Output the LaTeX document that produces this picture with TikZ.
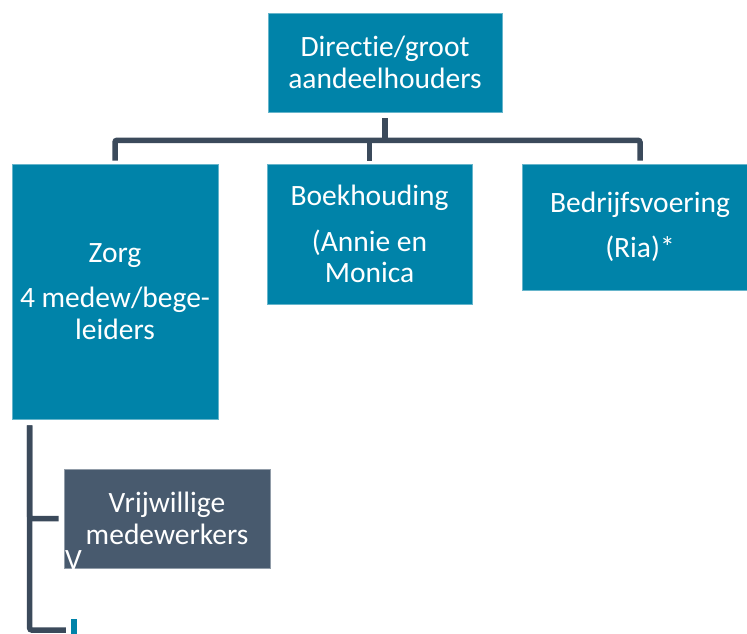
\documentclass[tikz,border=0pt]{standalone}
\usepackage{fontspec}
\setmainfont{Carlito}[Ligatures=NoCommon]
\definecolor{orgteal}{HTML}{0083A9}
\definecolor{orgslate}{HTML}{3B4A5B}
\definecolor{orgvol}{HTML}{485A6E}
\newcommand\boxfont{\fontsize{29.5}{31.5}\selectfont}
\newcommand\gapline{14pt}

\tikzset{
  unitbox/.style={fill=orgteal,draw=orgteal!60!white,line width=0.6pt,text=white,
    inner sep=0pt,align=center,font=\boxfont},
  volbox/.style={unitbox,fill=orgvol,draw=orgvol!60!white},
  conn/.style={draw=orgslate,line width=5.5pt,rounded corners=2pt},
}

\begin{document}
\begin{tikzpicture}[x=1pt,y=-1pt]
  \useasboundingbox (0,0) rectangle (747,633);

  \node[unitbox,minimum width=234pt,minimum height=99pt] (dir) at (385,62.5) {Directie/groot\\aandeelhouders};
  \node[unitbox,minimum width=206pt,minimum height=255pt] (zorg) at (115,291.5) {Zorg\\[\gapline]4 medew/bege-\\leiders};
  \node[unitbox,minimum width=205pt,minimum height=140pt] (boek) at (369.5,234) {Boekhouding\\[\gapline](Annie en\\Monica};
  \node[unitbox,minimum width=236pt,minimum height=126pt] (bedr) at (640,227) {Bedrijfsvoering\\[\gapline](Ria)*};

  \node[volbox,minimum width=206pt,minimum height=99pt] (vol) at (167,518.5) {Vrijwillige\\medewerkers};
  \node[text=white,font=\boxfont,anchor=base west,inner sep=0pt] (stray) at (65,569) {V};
  \node[fill=orgteal,minimum width=6pt,minimum height=22pt,inner sep=0pt] (more) at (74,630) {};

  % lines from the top
  \draw[conn] ([yshift=-6pt]dir.south) -- ([yshift=-28pt]dir.south);
  \draw[conn] ([yshift=3pt]zorg.north) |- ([yshift=-28pt]dir.south) -| ([yshift=3pt]bedr.north);
  \draw[conn] ([yshift=3pt]boek.north) -- ([yshift=24pt]boek.north);

  % lines under Zorg
  \coordinate (trunk) at ([xshift=18pt,yshift=-6pt]zorg.south west);
  \draw[conn] (trunk) |- ([xshift=-5pt]vol.west);
  \draw[conn] (trunk) |- ([xshift=-5pt]more.west);
\end{tikzpicture}
\end{document}
